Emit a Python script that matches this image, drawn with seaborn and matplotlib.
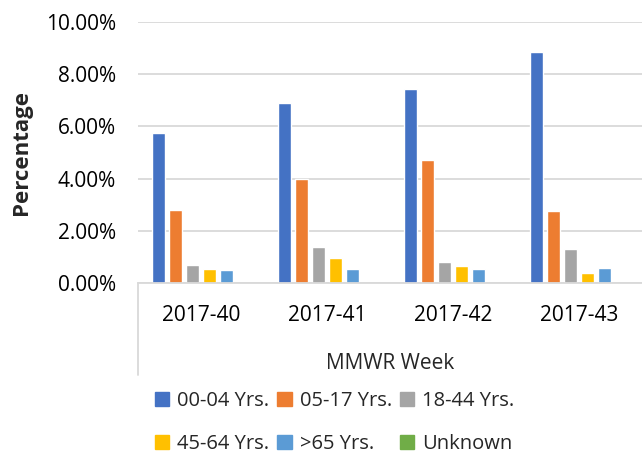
import pandas as pd
import numpy as np
import matplotlib
matplotlib.use("Agg")
import matplotlib.pyplot as plt
import matplotlib.ticker as mtick
from matplotlib.patches import Patch
from matplotlib.lines import Line2D
import seaborn as sns

# ==========================================
# Data
# ==========================================

weeks = ["2017-40", "2017-41", "2017-42", "2017-43"]
groups = ["00-04 Yrs.", "05-17 Yrs.", "18-44 Yrs.", "45-64 Yrs.", ">65 Yrs.", "Unknown"]

age_00_04 = [5.75, 6.88, 7.43, 8.84]
age_05_17 = [2.79, 4.00, 4.71, 2.76]
age_18_44 = [0.68, 1.38, 0.79, 1.29]
age_45_64 = [0.55, 0.96, 0.65, 0.38]
age_65_up = [0.49, 0.54, 0.54, 0.56]
unknown = [0.0, 0.0, 0.0, 0.0]

colors = ["#4472C4", "#ED7D31", "#A5A5A5", "#FFC000", "#5B9BD5", "#70AD47"]

series = [age_00_04, age_05_17, age_18_44, age_45_64, age_65_up, unknown]
rows = []
for g, vals in zip(groups, series):
    for w, v in zip(weeks, vals):
        rows.append({"week": w, "group": g, "pct": v / 100})
df = pd.DataFrame(rows)

# ==========================================
# Plot
# ==========================================

sns.set_style("white")
plt.rcParams["font.family"] = ["Open Sans", "DejaVu Sans"]

W, H = 642, 454
fig = plt.figure(figsize=(W / 100, H / 100), dpi=100)
ax = fig.add_axes([138 / W, 1 - 283 / H, 504 / W, 261 / H])

sns.barplot(
    data=df, x="week", y="pct", hue="group",
    hue_order=groups, order=weeks, palette=colors, saturation=1,
    width=0.81, gap=0.2, errorbar=None, legend=False, ax=ax
)

ax.set_ylim(0, 0.10)
ax.set_yticks(np.arange(0, 0.101, 0.02))
ax.yaxis.set_major_formatter(mtick.PercentFormatter(1.0, decimals=2))
ax.yaxis.grid(True, color="#D9D9D9", linewidth=1.3)
ax.xaxis.grid(False)
ax.set_axisbelow(True)

sns.despine(ax=ax, left=True)
ax.spines["bottom"].set_color("#D9D9D9")
ax.spines["bottom"].set_linewidth(1.3)

# left category border line going down past the labels
fig.add_artist(Line2D([138 / W, 138 / W], [1 - 283 / H, 1 - 375 / H],
                      color="#D9D9D9", linewidth=1.3))

ax.tick_params(axis="both", length=0, labelsize=15, colors="#000000")
ax.tick_params(axis="y", pad=16)
ax.tick_params(axis="x", pad=16)

ax.set_xlabel("MMWR Week", fontsize=15, labelpad=19)
ax.set_ylabel("Percentage", fontsize=16, fontweight="bold", labelpad=10)

# legend, row-wise order in 3 columns
handles = [Patch(color=c) for c in colors]
order = [0, 3, 1, 4, 2, 5]
fig.legend(
    [handles[i] for i in order], [groups[i] for i in order],
    ncol=3, loc="upper left", bbox_to_anchor=(145 / W, 1 - 381 / H),
    frameon=False, fontsize=14.5, handlelength=0.7, handleheight=0.7,
    handletextpad=0.4, columnspacing=0.4, labelspacing=1.15, borderpad=0
)

plt.savefig("out.png", dpi=100)
